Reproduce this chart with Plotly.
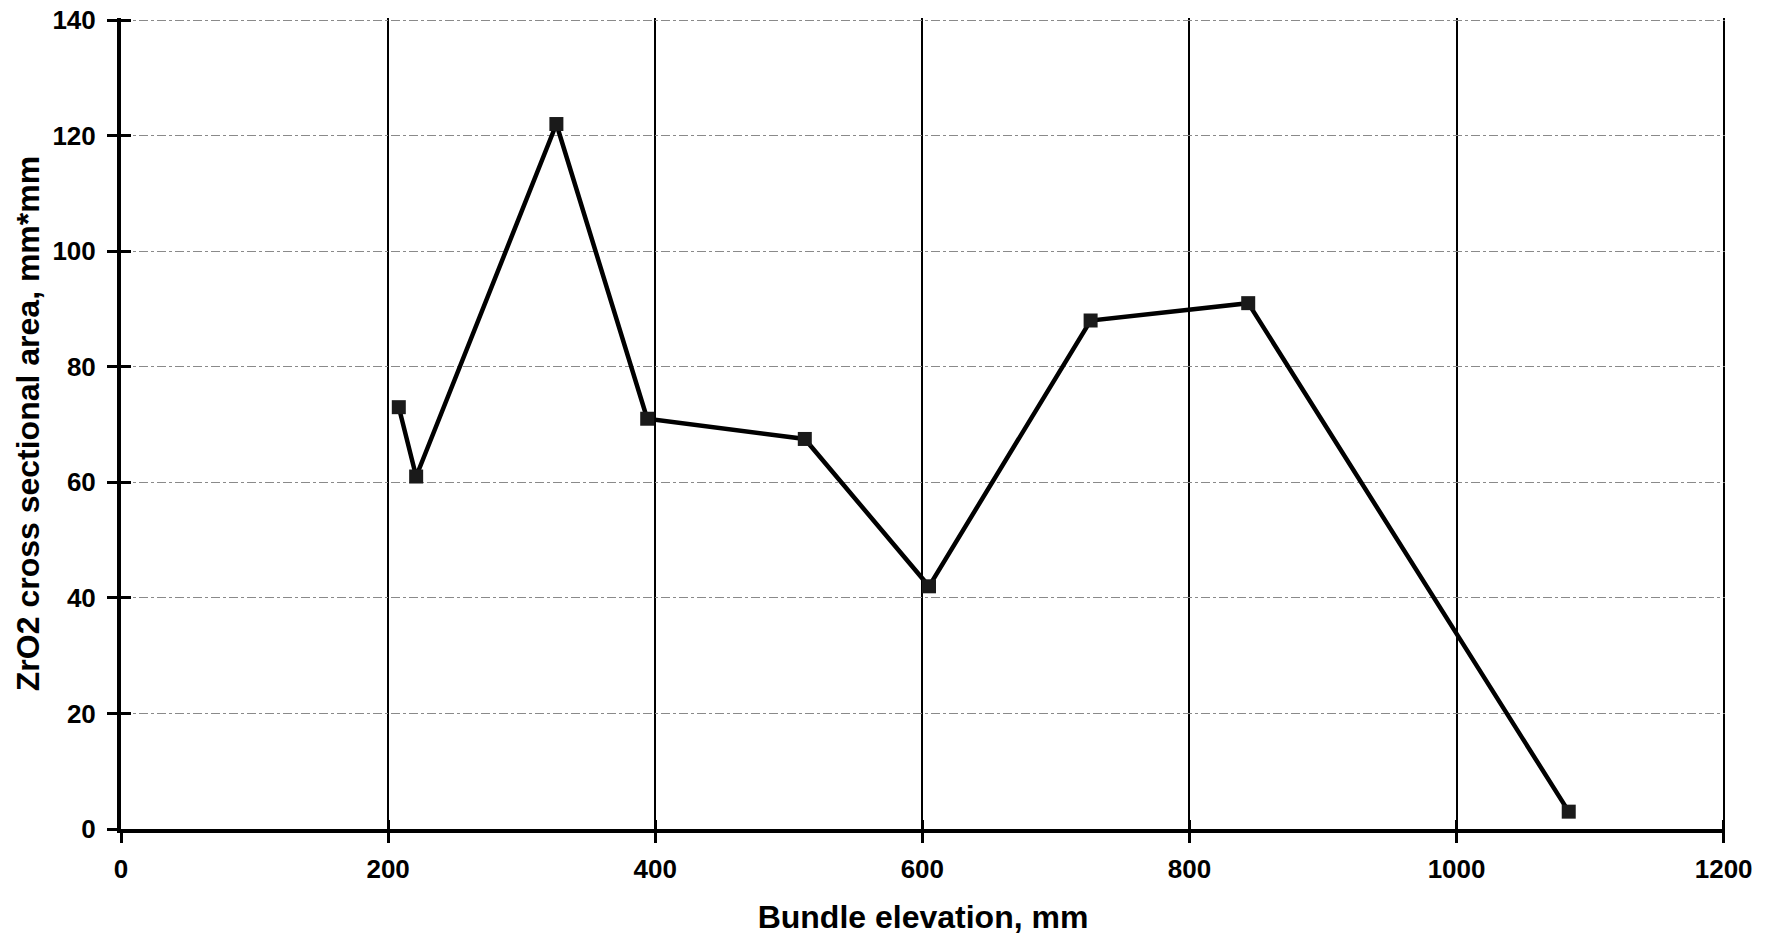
import plotly.graph_objects as go

# Data
elevation_mm = [208, 221, 326, 394, 512, 605, 726, 844, 1084]
zro2_area = [73, 61, 122, 71, 67.5, 42, 88, 91, 3]

x_ticks = [0, 200, 400, 600, 800, 1000, 1200]
y_ticks = [0, 20, 40, 60, 80, 100, 120, 140]

FONT = "Liberation Sans, Arial, Helvetica, sans-serif"

fig = go.Figure()

fig.add_trace(go.Scatter(
    x=elevation_mm, y=zro2_area,
    mode="lines+markers",
    line=dict(color="black", width=4.5),
    marker=dict(symbol="square", size=14, color="#1a1a1a"),
    showlegend=False,
))

# invisible helper trace to host the overlay axes (inside half of the crossing ticks)
fig.add_trace(go.Scatter(
    x=elevation_mm[:1], y=zro2_area[:1], xaxis="x2", yaxis="y2",
    mode="markers", marker=dict(opacity=0), hoverinfo="skip", showlegend=False,
))

X_RANGE = [0, 1201]
Y_RANGE = [0, 140.35]

fig.update_layout(
    width=1775, height=939,
    margin=dict(l=121, r=50, t=18, b=110),
    paper_bgcolor="white", plot_bgcolor="white",
    font=dict(family=FONT, color="black"),
    xaxis=dict(
        range=X_RANGE, tickvals=x_ticks, automargin=False,
        showline=True, linecolor="black", linewidth=4,
        ticks="outside", ticklen=10, tickwidth=3, tickcolor="black",
        tickfont=dict(size=26, family=FONT, weight="bold"),
        ticklabelstandoff=4,
        showgrid=True, gridcolor="black", gridwidth=1.5,
        zeroline=False,
        title=dict(text="Bundle elevation, mm",
                   font=dict(size=32, family=FONT, weight="bold"),
                   standoff=23),
    ),
    yaxis=dict(
        range=Y_RANGE, tickvals=y_ticks, automargin=False,
        showline=True, linecolor="black", linewidth=4,
        ticks="outside", ticklen=10, tickwidth=3, tickcolor="black",
        tickfont=dict(size=26, family=FONT, weight="bold"),
        ticklabelstandoff=6,
        showgrid=True, gridcolor="#8a8a8a", gridwidth=1, griddash="dashdot",
        zeroline=False,
        title=dict(text="ZrO2 cross sectional area, mm*mm",
                   font=dict(size=32, family=FONT, weight="bold"),
                   standoff=4),
    ),
    xaxis2=dict(
        overlaying="x", anchor="y2", range=X_RANGE, tickvals=x_ticks,
        automargin=False,
        ticks="inside", ticklen=9, tickwidth=3, tickcolor="black",
        showticklabels=False, showgrid=False, showline=False, zeroline=False,
    ),
    yaxis2=dict(
        overlaying="y", anchor="x2", range=Y_RANGE, tickvals=y_ticks,
        automargin=False,
        ticks="inside", ticklen=10, tickwidth=3, tickcolor="black",
        showticklabels=False, showgrid=False, showline=False, zeroline=False,
    ),
)

fig.write_html("out.html")
